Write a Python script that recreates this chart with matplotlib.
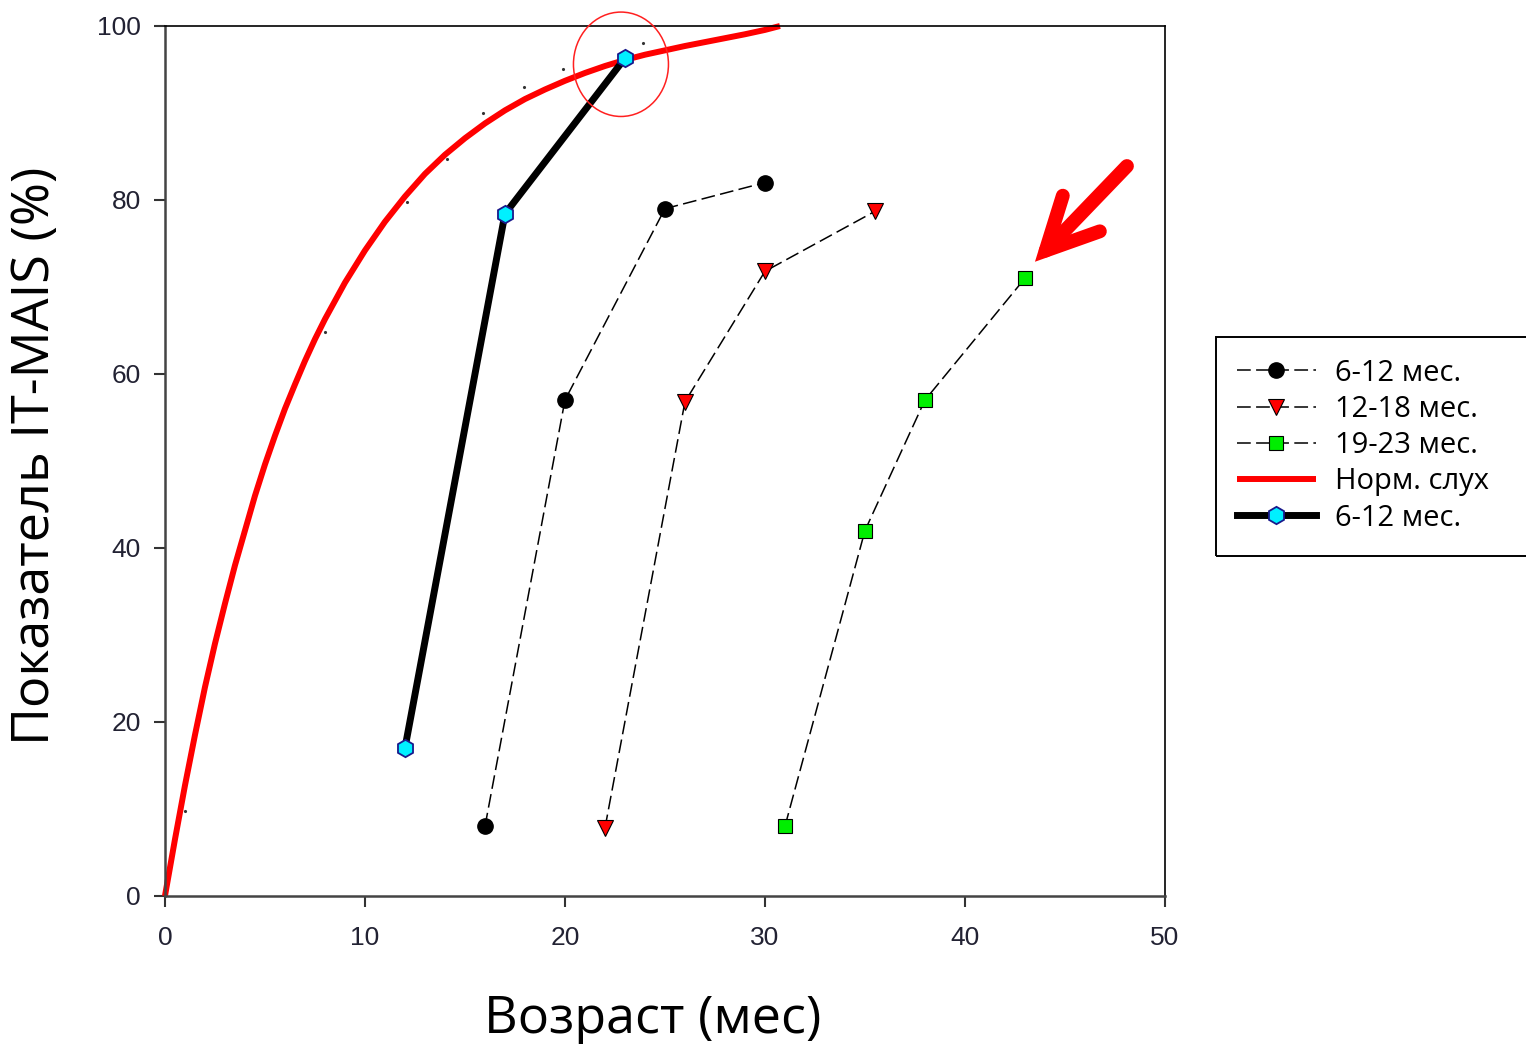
import numpy as np
import matplotlib.pyplot as plt
from matplotlib.patches import Ellipse, Rectangle

# --- data ---
norm_x = [0, 0.5, 1, 1.5, 2, 2.5, 3, 3.5, 4, 4.5, 5, 5.5, 6, 6.5, 7, 7.5, 8, 9, 10,
          11, 12, 13, 14, 15, 16, 17, 18, 19, 20, 21, 22, 23, 24, 25, 26, 27, 28,
          29, 30, 30.75]
norm_y = [0, 6.5, 12.7, 18.5, 24, 29, 33.6, 38, 42, 46, 49.6, 52.9, 56, 58.8, 61.5,
          64, 66.3, 70.5, 74.2, 77.5, 80.4, 83, 85.2, 87.1, 88.8, 90.3, 91.6, 92.7,
          93.7, 94.6, 95.4, 96.1, 96.7, 97.2, 97.7, 98.15, 98.6, 99.05, 99.55, 100]
# tiny marks along the norm curve
dots_x = [1, 3.9, 8, 12.1, 14.1, 15.9, 17.95, 19.9, 23.9]
dots_y = [9.8, 42, 64.8, 79.8, 84.7, 90, 93, 95, 98]

g1_x = [16, 20, 25, 30]
g1_y = [8, 57, 79, 82]
g2_x = [22, 26, 30, 35.5]
g2_y = [7.8, 56.8, 71.8, 78.7]
g3_x = [31, 35, 38, 43]
g3_y = [8, 42, 57, 71]
ci_x = [12, 17, 23]
ci_y = [17, 78.4, 96.3]

labels = ['6-12 мес.', '12-18 мес.', '19-23 мес.', 'Норм. слух', '6-12 мес.']

plt.rcParams['font.family'] = ['Liberation Sans', 'DejaVu Sans']

fig = plt.figure(figsize=(15.26, 10.44), dpi=100)
ax = fig.add_axes([0.1081, 0.1418, 0.6553, 0.8333])

dash = dict(color='black', lw=1.1, dashes=(9, 3.5), zorder=3)
h1, = ax.plot(g1_x, g1_y, marker='o', ms=11, mfc='black', mec='black', **dash)
h2, = ax.plot(g2_x, g2_y, marker='v', ms=12, mfc='#ff0000', mec='black', mew=0.8, **dash)
h3, = ax.plot(g3_x, g3_y, marker='s', ms=10.5, mfc='#00ee00', mec='black', mew=0.8, **dash)
h4, = ax.plot(norm_x, norm_y, color='#ff0000', lw=4.3, solid_capstyle='butt',
              solid_joinstyle='round', zorder=2, clip_on=False)
ax.plot(dots_x, dots_y, ls='none', marker='.', ms=2.5, color='#333333', zorder=1)
h5, = ax.plot(ci_x, ci_y, color='black', lw=5, marker='h', ms=12.5,
              mfc='#00f0ff', mec='#1a1a8c', mew=1.3, zorder=4)

# red circle around the last point
ax.add_patch(Ellipse((22.8, 95.6), 4.75, 12.0, fill=False, ec='#ff2020', lw=1.1,
                     clip_on=False, zorder=5))

# red arrow pointing at the 19-23 group
ax.annotate('', xy=(43.5, 72.9), xytext=(48.1, 83.9),
            arrowprops=dict(arrowstyle='->,head_length=1.0,head_width=0.5',
                            mutation_scale=37, lw=10, color='#ff0000',
                            capstyle='round', joinstyle='miter',
                            shrinkA=0, shrinkB=0),
            annotation_clip=False)

ax.set_xlim(0, 50)
ax.set_ylim(0, 100)
ax.set_xticks([0, 10, 20, 30, 40, 50])
ax.set_yticks([0, 20, 40, 60, 80, 100])
ax.tick_params(axis='both', direction='out', length=8, width=1.5, labelsize=19,
               labelcolor='#222233', color='#333333', top=False, right=False)
ax.tick_params(axis='x', pad=13.5)
ax.tick_params(axis='y', pad=9.5)
for s in ['left', 'bottom']:
    ax.spines[s].set_linewidth(1.8)
    ax.spines[s].set_color('#444444')
for s in ['top', 'right']:
    ax.spines[s].set_linewidth(1.2)
    ax.spines[s].set_color('black')

ax.set_xlabel('Возраст (мес)', family='Open Sans', fontsize=37.5)
ax.xaxis.set_label_coords(0.488, -0.113)
ax.set_ylabel('Показатель IT-MAIS (%)', family='Open Sans', fontsize=37.5)
ax.yaxis.set_label_coords(-0.104, 0.506)

leg = fig.legend([h1, h2, h3, h4, h5], labels, loc='upper left',
                 bbox_to_anchor=(0.8106, 0.6566), frameon=False,
                 prop={'family': 'Open Sans', 'size': 21},
                 handlelength=2.7, handletextpad=0.65, labelspacing=0.25,
                 numpoints=1, borderpad=0, borderaxespad=0)
fig.patches.append(Rectangle((0.797, 0.467), 0.25, 0.21, transform=fig.transFigure,
                             fill=False, ec='black', lw=1.4))

fig.savefig('out.png', dpi=100)
